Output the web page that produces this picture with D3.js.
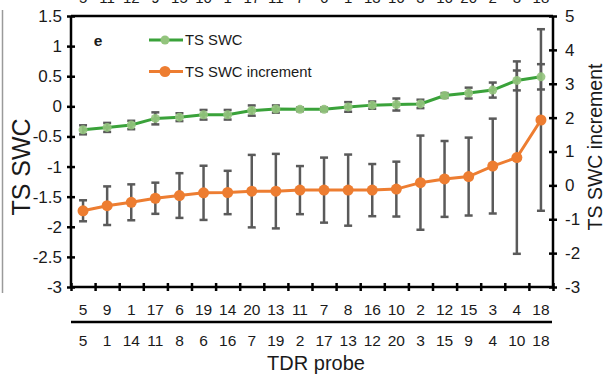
<!DOCTYPE html>
<html>
<head>
<meta charset="utf-8">
<script src="https://cdn.jsdelivr.net/npm/d3@7/dist/d3.min.js"></script>
<style>
  html, body { margin: 0; padding: 0; background: #fff; }
  svg { display: block; font-family: "Liberation Sans", Arial, sans-serif; }
</style>
</head>
<body>
<svg id="chart" width="605" height="377"></svg>
<script>
// Probe order on the first label row (sorted by TS SWC) and second label row
const probeRowA = ["5","9","1","17","6","19","14","20","13","11","7","8","16","10","2","12","15","3","4","18"];
const probeRowB = ["5","1","14","11","8","6","16","7","19","2","17","13","12","20","3","15","9","4","10","18"];
// Label row of the panel above (only its lower edge falls inside this view)
const upperProbeRow = ["5","11","12","9","15","10","1","17","11","7","6","1","13","16","3","16","20","2","3","18"];

// TS SWC (left axis) with error half-widths
const tsSwc    = [-0.39,-0.35,-0.31,-0.20,-0.18,-0.14,-0.14,-0.07,-0.045,-0.05,-0.05,-0.01,0.02,0.03,0.04,0.18,0.22,0.27,0.43,0.49];
const tsSwcErr = [0.075,0.075,0.07,0.10,0.065,0.08,0.08,0.085,0.06,0.03,0.03,0.08,0.06,0.10,0.07,0.04,0.09,0.125,0.165,0.21];

// TS SWC increment (right axis) with error half-widths
const tsInc    = [-0.75,-0.60,-0.50,-0.38,-0.30,-0.22,-0.21,-0.17,-0.17,-0.14,-0.14,-0.14,-0.14,-0.11,0.08,0.19,0.26,0.57,0.82,1.93];
const tsIncErr = [0.31,0.57,0.53,0.46,0.66,0.80,0.64,1.07,1.10,0.71,0.96,1.05,0.77,0.81,1.39,1.12,1.15,1.40,2.84,2.68];

const leftTicks  = [-3,-2.5,-2,-1.5,-1,-0.5,0,0.5,1,1.5];
const rightTicks = [-3,-2,-1,0,1,2,3,4,5];

const seriesNames = ["TS SWC", "TS SWC increment"];
const panelTag = "e";

const W = 605, H = 377;
const m = { left: 71, right: 52, top: 16, bottom: 90 };
const x0 = m.left, x1 = W - m.right, y0 = m.top, y1 = H - m.bottom;

const svg = d3.select("#chart");

const idx = d3.range(probeRowA.length);
const x = d3.scaleBand().domain(idx).range([x0, x1]).padding(0);
const xEdge = d3.scaleLinear().domain([0, idx.length]).range([x0, x1]);
const yL = d3.scaleLinear().domain([-3, 1.5]).range([y1, y0]);
const yR = d3.scaleLinear().domain([-3, 5]).range([y1, y0]);
const cx = i => x(i) + x.bandwidth() / 2;

const fmt = d => (d < 0 ? "-" : "") + d3.format("")(Math.abs(d));

const GREEN = "#3aa23a", GREEN_PT = "#93c47d", ORANGE = "#ed7d31", ERR = "#5a5a5a";
const TXT = "#1a1a1a";

// Separator line at the far left
svg.append("line").attr("x1", 2.5).attr("x2", 2.5).attr("y1", 10).attr("y2", 293)
  .attr("stroke", "#9a9a9a").attr("stroke-width", 1.5);

// Clipped labels of the panel above
svg.append("g").selectAll("text").data(upperProbeRow).join("text")
  .attr("x", (d, i) => cx(i)).attr("y", 3)
  .attr("text-anchor", "middle").attr("font-size", 15).attr("fill", TXT)
  .text(d => d);

// Top frame line
svg.append("line").attr("x1", x0).attr("x2", x1).attr("y1", y0).attr("y2", y0)
  .attr("stroke", "#000").attr("stroke-width", 2.5);

// Left axis
const gL = svg.append("g").attr("transform", `translate(${x0},0)`)
  .call(d3.axisLeft(yL).tickValues(leftTicks).tickFormat(fmt).tickSize(4).tickPadding(5));
// Right axis
const gR = svg.append("g").attr("transform", `translate(${x1},0)`)
  .call(d3.axisRight(yR).tickValues(rightTicks).tickFormat(fmt).tickSize(4).tickPadding(8));
// Bottom axis: ticks on probe boundaries
const gB = svg.append("g").attr("transform", `translate(0,${y1})`)
  .call(d3.axisBottom(xEdge).tickValues(d3.range(idx.length + 1)).tickFormat("").tickSize(4));

[gL, gR, gB].forEach(g => {
  g.select(".domain").attr("stroke", "#000").attr("stroke-width", 2.5);
  g.selectAll(".tick line").attr("stroke", "#000").attr("stroke-width", 2.5);
  g.selectAll(".tick text").attr("font-size", 17).attr("fill", TXT)
    .attr("font-family", "Liberation Sans, Arial, sans-serif");
});
gL.selectAll(".tick line").attr("x1", 4);
gR.selectAll(".tick line").attr("x1", -4);
gB.selectAll(".tick line").attr("y1", -4);
gL.selectAll(".domain").attr("d", `M0,${y0}V${y1}`);
gR.selectAll(".domain").attr("d", `M0,${y0}V${y1}`);
gB.selectAll(".domain").attr("d", `M${x0},0H${x1}`);

// Category label rows
svg.append("g").selectAll("text").data(probeRowA).join("text")
  .attr("x", (d, i) => cx(i)).attr("y", 315)
  .attr("text-anchor", "middle").attr("font-size", 15.5).attr("fill", TXT).text(d => d);
svg.append("line").attr("x1", x0).attr("x2", x1 - 1).attr("y1", 322).attr("y2", 322)
  .attr("stroke", "#000").attr("stroke-width", 2.5);
svg.append("g").selectAll("text").data(probeRowB).join("text")
  .attr("x", (d, i) => cx(i)).attr("y", 346)
  .attr("text-anchor", "middle").attr("font-size", 15.5).attr("fill", TXT).text(d => d);
svg.append("text").attr("x", 316).attr("y", 370).attr("text-anchor", "middle")
  .attr("font-size", 20).attr("fill", TXT).text("TDR probe");

// Axis titles
svg.append("text").attr("transform", `translate(30,167) rotate(-90)`)
  .attr("text-anchor", "middle").attr("font-size", 25).attr("fill", TXT).text(seriesNames[0]);
svg.append("text").attr("transform", `translate(602,147) rotate(-90)`)
  .attr("text-anchor", "middle").attr("font-size", 19.5).attr("fill", TXT).text(seriesNames[1]);

// Error bars
function errorBars(vals, errs, y) {
  const g = svg.append("g").attr("stroke", ERR).attr("stroke-width", 2.5);
  idx.forEach(i => {
    const top = y(vals[i] + errs[i]), bot = y(vals[i] - errs[i]), c = cx(i);
    g.append("line").attr("x1", c).attr("x2", c).attr("y1", top).attr("y2", bot);
    g.append("line").attr("x1", c - 4).attr("x2", c + 4).attr("y1", top).attr("y2", top);
    g.append("line").attr("x1", c - 4).attr("x2", c + 4).attr("y1", bot).attr("y2", bot);
  });
}
errorBars(tsInc, tsIncErr, yR);
errorBars(tsSwc, tsSwcErr, yL);

// Lines and markers
const lineL = d3.line().x((d, i) => cx(i)).y(d => yL(d));
const lineR = d3.line().x((d, i) => cx(i)).y(d => yR(d));
svg.append("path").datum(tsSwc).attr("d", lineL).attr("fill", "none")
  .attr("stroke", GREEN).attr("stroke-width", 3);
svg.append("g").selectAll("circle").data(tsSwc).join("circle")
  .attr("cx", (d, i) => cx(i)).attr("cy", d => yL(d)).attr("r", 4.5)
  .attr("fill", GREEN_PT).attr("fill-opacity", 0.9);
svg.append("path").datum(tsInc).attr("d", lineR).attr("fill", "none")
  .attr("stroke", ORANGE).attr("stroke-width", 3);
svg.append("g").selectAll("circle").data(tsInc).join("circle")
  .attr("cx", (d, i) => cx(i)).attr("cy", d => yR(d)).attr("r", 5.5)
  .attr("fill", ORANGE);

// Legend
const legend = [
  { name: seriesNames[0], line: GREEN, pt: GREEN_PT, r: 4.5, y: 40 },
  { name: seriesNames[1], line: ORANGE, pt: ORANGE, r: 5.5, y: 71.5 }
];
const lg = svg.append("g");
legend.forEach(d => {
  lg.append("line").attr("x1", 149).attr("x2", 183).attr("y1", d.y).attr("y2", d.y)
    .attr("stroke", d.line).attr("stroke-width", 3);
  lg.append("circle").attr("cx", 165).attr("cy", d.y).attr("r", d.r).attr("fill", d.pt);
  lg.append("text").attr("x", 185).attr("y", d.y).attr("dy", "0.35em")
    .attr("font-size", 14.8).attr("fill", TXT).text(d.name);
});

// Panel tag
svg.append("text").attr("x", 98).attr("y", 41).attr("dy", "0.35em").attr("text-anchor", "middle")
  .attr("font-size", 15.5).attr("font-weight", "bold").attr("fill", TXT).text(panelTag);
</script>
</body>
</html>
